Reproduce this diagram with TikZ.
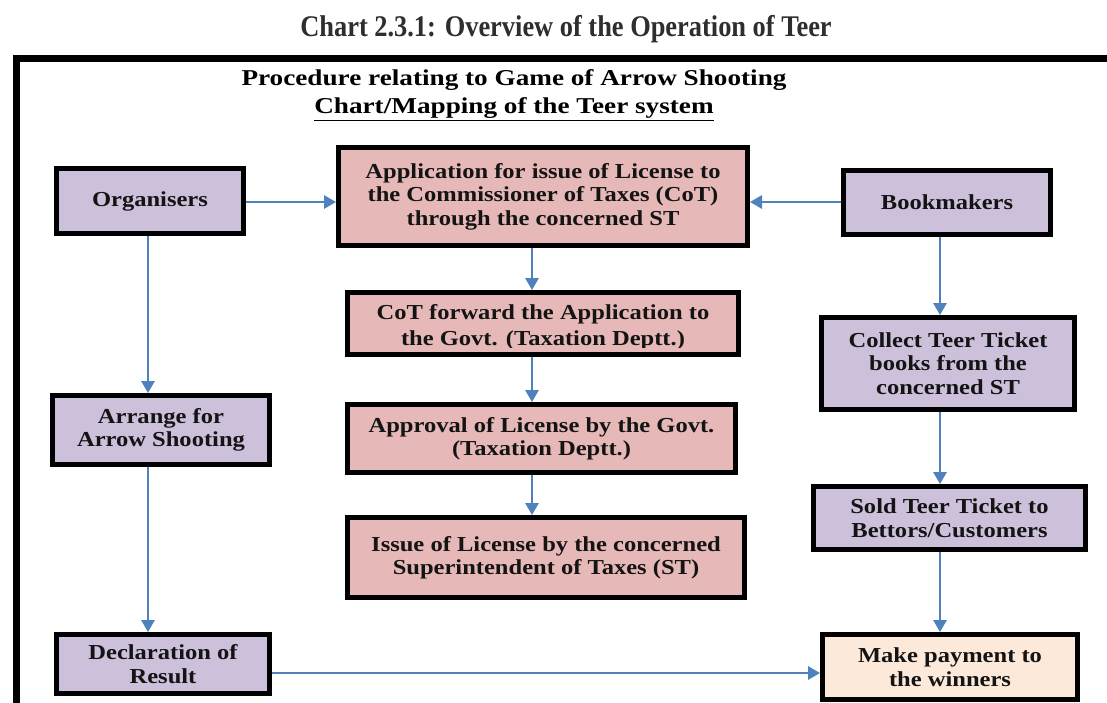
\documentclass[tikz,border=0pt]{standalone}
\usepackage{fontspec}
\setmainfont{Liberation Serif}
\newfontfamily\boxfont[FakeStretch=1.15]{Liberation Serif}
\newfontfamily\headfont[FakeStretch=1.2]{Liberation Serif}
\newfontfamily\titlefont[FakeStretch=0.88]{Liberation Serif}
\usetikzlibrary{arrows.meta}
\definecolor{lav}{HTML}{CCC0DA}
\definecolor{pinkbox}{HTML}{E6B9B8}
\definecolor{peach}{HTML}{FDE9D9}
\definecolor{arrblue}{HTML}{4F81BD}
\definecolor{titlegray}{HTML}{2E2E2E}
\tikzset{
  box/.style={draw=black, line width=3.75pt, align=center, inner sep=2pt,
    font=\boxfont\bfseries\fontsize{16}{17.6}\selectfont, text=black!92},
  lavbox/.style={box, fill=lav},
  pinkb/.style={box, fill=pinkbox},
  peachb/.style={box, fill=peach},
  heading/.style={font=\headfont\bfseries\fontsize{17}{17}\selectfont, text=black},
  flow/.style={draw=arrblue, line width=1.5pt, -{Triangle[length=9pt,width=10pt]}},
}
\begin{document}
\begin{tikzpicture}[x=0.75pt,y=-0.75pt]
\useasboundingbox (0,0) rectangle (1107,703);
% titles
\node[text=titlegray, font=\titlefont\bfseries\fontsize{22.5}{22.5}\selectfont] (title) at (566,29) {Chart 2.3.1: Overview of the Operation of Teer};
% outer frame
\draw[line width=5.25pt] (16.5,710) -- (16.5,58.5) -- (1115,58.5);
\node[heading] (proc) at (514,80) {Procedure relating to Game of Arrow Shooting};
\node[heading] (map) at (514,109) {\underline{Chart/Mapping of the Teer system}};
% column lines
\coordinate (colL) at (148,0);
\coordinate (colM) at (532,0);
\coordinate (colR) at (940,0);
\coordinate (rowT) at (0,202);
\coordinate (rowB) at (0,673);
% boxes
\node[lavbox, minimum width=140.25pt, minimum height=48.75pt] (org) at (150,201) {Organisers};
\node[pinkb, minimum width=306.75pt, minimum height=73.5pt] (app) at (543,196.5) {Application for issue of License to\\the Commissioner of Taxes (CoT)\\through the concerned ST};
\node[pinkb, minimum width=293.25pt, minimum height=46.5pt] (cot) at (543,323.5) {\raisebox{-7.6pt}[0pt][0pt]{\begin{tabular}[c]{@{}c@{}}CoT forward the Application to\\[1.9pt]the Govt. (Taxation Deptt.)\end{tabular}}};
\fill[pinkbox] ([shift={(3.75pt,3.5pt)}]cot.south west) rectangle ([shift={(-3.75pt,6.4pt)}]cot.south east);
\draw[line width=3.75pt] ([shift={(1.875pt,1.875pt)}]cot.south west) rectangle ([shift={(-1.875pt,-1.875pt)}]cot.north east);
\node[pinkb, minimum width=291pt, minimum height=51pt] (appr) at (541.5,438.5) {Approval of License by the Govt.\\(Taxation Deptt.)};
\node[pinkb, minimum width=297.75pt, minimum height=60pt] (issue) at (546,557.5) {Issue of License by the concerned\\Superintendent of Taxes (ST)};
\node[lavbox, minimum width=155.25pt, minimum height=48pt] (book) at (947,202.5) {Bookmakers};
\node[lavbox, minimum width=189.75pt, minimum height=69pt] (coll) at (948,363.5) {Collect Teer Ticket\\books from the\\concerned ST};
\node[lavbox, minimum width=162.75pt, minimum height=51.75pt] (arr) at (161,430) {Arrange for\\Arrow Shooting};
\node[lavbox, minimum width=159.75pt, minimum height=44.25pt] (decl) at (163,664) {Declaration of\\Result};
\node[lavbox, minimum width=204pt, minimum height=47.25pt] (sold) at (949.5,518) {Sold Teer Ticket to\\Bettors/Customers};
\node[peachb, minimum width=191.25pt, minimum height=48.75pt] (pay) at (950,667) {Make payment to\\the winners};
% connectors
\draw[flow] (org.east |- rowT) -- (app.west |- rowT);
\draw[flow] (book.west |- rowT) -- (app.east |- rowT);
\draw[flow] (app.south -| colM) -- (cot.north -| colM);
\draw[flow] (cot.south -| colM) -- (appr.north -| colM);
\draw[flow] (appr.south -| colM) -- (issue.north -| colM);
\draw[flow] (org.south -| colL) -- (arr.north -| colL);
\draw[flow] (arr.south -| colL) -- (decl.north -| colL);
\draw[flow] (decl.east |- rowB) -- (pay.west |- rowB);
\draw[flow] (book.south -| colR) -- (coll.north -| colR);
\draw[flow] (coll.south -| colR) -- (sold.north -| colR);
\draw[flow] (sold.south -| colR) -- (pay.north -| colR);
\end{tikzpicture}
\end{document}
